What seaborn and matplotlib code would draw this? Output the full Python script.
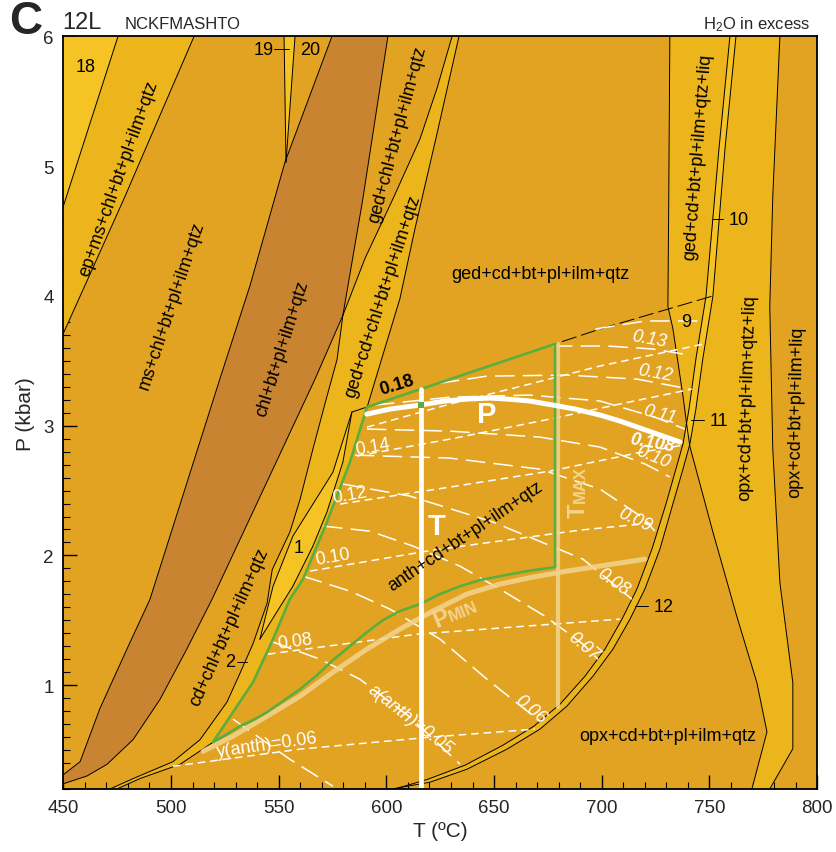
import numpy as np
import matplotlib
matplotlib.use("Agg")
import matplotlib.pyplot as plt
import seaborn as sns

sns.set_theme(style="ticks")
plt.rcParams["font.family"] = ["Liberation Sans", "DejaVu Sans"]
plt.rcParams["mathtext.fontset"] = "custom"
plt.rcParams["mathtext.rm"] = "Liberation Sans"
plt.rcParams["mathtext.it"] = "Liberation Sans:italic"
plt.rcParams["mathtext.bf"] = "Liberation Sans:bold"
plt.rcParams["lines.scale_dashes"] = False

ORANGE = "#E2A322"
YELLOW = "#EDB51C"
BRIGHT = "#F5C424"
BROWN = "#C98431"
GREEN = "#5BAE3E"
PALE = "#F3D490"

# ---------------- field boundaries (T in degC, P in kbar) ----------------
f18_T = [450.0, 475.4, 450.0]
f18_P = [6.0, 6.0, 4.69]
epms_T = [510.7, 478.2, 450.0]
epms_P = [6.0, 4.75, 3.71]
chl_left_T = [574.7, 552.9, 536.7, 522.7, 490.2, 479.6, 467.0, 457.8, 450.0]
chl_left_P = [6.0, 5.03, 4.08, 3.36, 1.66, 1.28, 0.82, 0.41, 0.31]
chl_right_T = [600.7, 589.1, 579.8, 566.9, 519.0, 507.4, 494.9, 482.4, 470.3, 461.0, 450.0]
chl_right_P = [6.0, 4.75, 3.85, 3.36, 1.66, 1.28, 0.89, 0.58, 0.39, 0.30, 0.24]
f19_T = [552.5, 553.4]
f19_P = [6.0, 5.03]
f20_T = [557.6, 553.4]
f20_P = [6.0, 5.03]

# ged+cd+chl field
gcc_left_T = [630.5, 623.5, 615.6, 603.1, 590.1, 579.8]
gcc_left_P = [6.0, 5.60, 5.21, 4.75, 4.29, 3.85]
gcc_right_T = [633.7, 623.5, 613.3, 606.3, 591.0]
gcc_right_P = [6.0, 5.25, 4.52, 3.98, 3.14]
cd_chl_T = [579.8, 577.1, 571.5, 565.9, 559.9, 555.2, 547.0, 544.6, 538.1, 532.0, 526.0, 513.5, 500.9, 482.4, 471.7]
cd_chl_P = [3.85, 3.51, 3.17, 2.82, 2.43, 2.18, 1.89, 1.63, 1.32, 1.09, 0.87, 0.58, 0.41, 0.28, 0.2]
tail_T = [519.5, 504.2, 485.6, 474.9]
tail_P = [0.56, 0.39, 0.28, 0.2]
lens_left_T = [584.0, 575.2, 556.6, 547.4, 541.3]
lens_left_P = [3.105, 2.642, 2.149, 1.763, 1.355]
lens_right_T = [584.0, 579.8, 572.4, 565.9, 556.6, 541.3]
lens_right_P = [3.105, 2.719, 2.334, 2.072, 1.763, 1.355]

# ged-out (dashed)
ged_T = [584.0, 678.3, 699.2, 751.6]
ged_P = [3.105, 3.63, 3.745, 4.0]

# liquid-bearing fields on the right
liq_left_T = [731.6, 731.1, 730.7, 733.0, 737.7, 739.5, 740.9, 751.6, 762.7, 772.0, 776.7, 769.7]
liq_left_P = [6.0, 4.75, 3.92, 3.75, 3.23, 3.0, 2.84, 2.18, 1.53, 1.02, 0.64, 0.2]
qtz_out_T = [782.7, 779.4, 778.0, 779.4, 782.7, 788.7, 788.7, 778.0]
qtz_out_P = [6.0, 4.77, 3.92, 2.82, 1.79, 1.02, 0.51, 0.2]

# opx-in band
opx_out_T = [762.3, 757.2, 751.6, 746.9, 743.7, 740.9, 737.7, 733.0, 727.0, 720.0, 713.1, 705.2, 695.9, 683.8, 671.3, 656.0, 637.4, 620.2, 602.6]
opx_out_P = [6.0, 5.133, 3.999, 3.514, 3.128, 2.858, 2.665, 2.396, 2.049, 1.740, 1.509, 1.278, 1.069, 0.838, 0.661, 0.507, 0.352, 0.252, 0.2]
opx_in_T = [759.5, 754.4, 748.4, 743.7, 740.5, 737.7, 734.4, 729.8, 723.3, 716.3, 709.4, 701.5, 692.2, 680.6, 668.5, 654.1, 636.5, 619.3, 604.0]
opx_in_P = [6.0, 5.133, 3.999, 3.514, 3.128, 2.858, 2.665, 2.396, 2.049, 1.740, 1.509, 1.278, 1.069, 0.853, 0.684, 0.537, 0.383, 0.275, 0.2]

# green outline of the anth field (top edge, Tmax side, lower curve, left side)
green_T = [591.0, 678.3, 678.3, 665.3, 652.7, 643.5, 634.2, 624.9, 615.6, 606.3, 598.4, 591.0, 583.1,
           575.2, 567.8, 559.9, 552.0, 544.6, 539.0, 532.0, 526.0, 519.5,
           528.8, 538.1, 547.4, 555.2, 561.3, 572.4, 583.1, 591.0]
green_P = [3.143, 3.63, 1.910, 1.879, 1.840, 1.810, 1.763, 1.702, 1.625, 1.571, 1.501, 1.409, 1.301,
           1.193, 1.077, 0.969, 0.877, 0.792, 0.738, 0.684, 0.622, 0.561,
           0.792, 1.023, 1.355, 1.663, 1.817, 2.257, 2.719, 3.143]
G_CORNER = 21

# P-T estimates
p_line_T = [590.9, 601.7, 615.6, 627.2, 637.4, 648.1, 656.0, 666.6, 677.3, 687.6, 699.2, 708.4, 717.7, 727.0, 736.3]
p_line_P = [3.089, 3.128, 3.159, 3.190, 3.205, 3.213, 3.205, 3.190, 3.159, 3.128, 3.082, 3.036, 2.982, 2.928, 2.874]
t_line_T = [616.0, 616.0]
t_line_P = [3.28, 0.2]
tmax_T = [679.7, 679.7]
tmax_P = [3.63, 0.83]
pmin_T = [514.9, 528.8, 544.6, 559.9, 575.2, 591.0, 606.3, 621.6, 637.4, 652.7, 668.0, 683.8, 699.2, 720.0]
pmin_P = [0.491, 0.607, 0.761, 0.915, 1.100, 1.278, 1.432, 1.571, 1.702, 1.779, 1.833, 1.879, 1.918, 1.971]

# y(anth) isopleths (short dashes)
y_anth = {
    0.06: ([500.9, 559.9, 620.2, 668.9], [0.375, 0.507, 0.599, 0.661]),
    0.08: ([545.0, 614.2, 689.9, 708.4], [1.239, 1.393, 1.486, 1.509]),
    0.10: ([564.5, 621.6, 689.9, 722.3], [1.879, 2.041, 2.195, 2.249]),
    0.12: ([578.5, 629.6, 676.0, 716.3, 737.7], [2.396, 2.527, 2.650, 2.789, 2.850]),
    0.14: ([586.3, 629.6, 676.0, 708.4, 741.8], [2.766, 2.897, 3.051, 3.167, 3.282]),
    0.16: ([591.0, 629.6, 666.6, 699.2, 747.1], [2.989, 3.167, 3.321, 3.460, 3.629]),
}
# a(anth) isopleths (long dashes)
a_anth = {
    0.14: ([697.0, 720.2, 748.0], [3.745, 3.807, 3.807]),
    0.13: ([677.3, 702.4, 723.7, 740.9], [3.614, 3.614, 3.591, 3.544]),
    0.12: ([624.9, 646.7, 683.8, 716.3, 740.9], [3.328, 3.382, 3.390, 3.359, 3.282]),
    0.11: ([594.7, 629.6, 666.6, 699.2, 724.6, 738.6], [3.159, 3.220, 3.236, 3.190, 3.066, 2.974]),
    0.10: ([591.0, 629.6, 671.3, 699.2, 720.2, 731.6], [2.974, 2.958, 2.912, 2.835, 2.704, 2.604]),
    0.09: ([585.4, 629.6, 671.3, 699.2, 720.0, 724.6], [2.773, 2.750, 2.665, 2.511, 2.280, 2.187]),
    0.08: ([579.8, 611.0, 649.5, 691.3, 714.0], [2.550, 2.457, 2.257, 1.971, 1.663]),
    0.07: ([570.6, 592.4, 612.4, 634.2, 652.7, 673.6, 691.3, 698.2], [2.226, 2.187, 2.072, 1.917, 1.740, 1.532, 1.316, 1.200]),
    0.06: ([561.3, 583.1, 601.7, 624.9, 646.7, 671.3], [1.840, 1.725, 1.586, 1.355, 1.046, 0.722]),
    0.05: ([547.4, 569.2, 587.7, 611.0, 634.2], [1.332, 1.200, 1.046, 0.753, 0.391]),
    0.04: ([528.8, 555.2, 575.2], [0.738, 0.429, 0.221]),
}

x_ticks = [450, 500, 550, 600, 650, 700, 750, 800]
y_ticks = [1, 2, 3, 4, 5, 6]

fig = plt.figure(figsize=(8.37, 8.53), dpi=100)
ax = fig.add_axes([0.0756, 0.0739, 0.9007, 0.8822])
ax.set_facecolor(ORANGE)


def trace(T, P, color="black", lw=0.7, ls="-", z=3, **kw):
    sns.lineplot(x=np.asarray(T, float), y=np.asarray(P, float), sort=False, estimator=None,
                 ax=ax, color=color, lw=lw, linestyle=ls, zorder=z, **kw)


def patch(T, P, color, z=1):
    ax.fill(T, P, color=color, lw=0, zorder=z)


def limit_label(T, P, big, small, rot, big_width_pt):
    """Large letter followed by a small-caps word on the same rotated baseline."""
    kw = dict(rotation=rot, rotation_mode="anchor", ha="left", va="baseline",
              fontweight="bold", color=PALE, zorder=9)
    ax.text(T, P, big, fontsize=17, **kw)
    a = np.deg2rad(rot)
    ax.annotate(small, xy=(T, P), xytext=(big_width_pt * np.cos(a), big_width_pt * np.sin(a)),
                textcoords="offset points", fontsize=12, **kw)


# ---- coloured fields ----
patch(f18_T, f18_P, BRIGHT)
patch([475.4, 450.0] + epms_T[::-1], [6.0, 4.69] + epms_P[::-1], YELLOW)
patch(chl_left_T + chl_right_T[::-1], chl_left_P + chl_right_P[::-1], BROWN)
patch([552.5, 557.6, 553.4], [6.0, 6.0, 5.03], BRIGHT)
band_T = gcc_left_T + cd_chl_T[1:] + tail_T[::-1] + green_T[G_CORNER:] + gcc_right_T[::-1]
band_P = gcc_left_P + cd_chl_P[1:] + tail_P[::-1] + green_P[G_CORNER:] + gcc_right_P[::-1]
patch(band_T, band_P, YELLOW)
patch(lens_left_T + lens_right_T[::-1], lens_left_P + lens_right_P[::-1], BRIGHT, z=1.2)
patch(liq_left_T + qtz_out_T[::-1], liq_left_P + qtz_out_P[::-1], YELLOW)
patch(opx_out_T + opx_in_T[::-1], opx_out_P + opx_in_P[::-1], YELLOW, z=1.3)
pg = np.linspace(2.93, 6.0, 200)
ax.fill_betweenx(pg, np.interp(pg, opx_in_P[::-1], opx_in_T[::-1]),
                 np.interp(pg, opx_out_P[::-1], opx_out_T[::-1]), color=BRIGHT, lw=0, zorder=1.4)

# ---- boundary lines ----
for T, P in [([475.4, 450.0], [6.0, 4.69]), (epms_T, epms_P), (chl_left_T, chl_left_P),
             (chl_right_T, chl_right_P), (f19_T, f19_P), (f20_T, f20_P), (gcc_left_T, gcc_left_P),
             (gcc_right_T, gcc_right_P), (cd_chl_T, cd_chl_P), (tail_T, tail_P),
             (lens_left_T, lens_left_P), (lens_right_T, lens_right_P), (liq_left_T, liq_left_P),
             (qtz_out_T, qtz_out_P), (opx_out_T, opx_out_P), (opx_in_T, opx_in_P),
             (green_T[G_CORNER:], green_P[G_CORNER:])]:
    trace(T, P)
trace(ged_T, ged_P, ls=(0, (11, 3.5)))

# ---- isopleths ----
for v, (T, P) in y_anth.items():
    trace(T, P, color="white", lw=1.1, ls=(0, (5.5, 3.5)), z=4)
for v, (T, P) in a_anth.items():
    trace(T, P, color="white", lw=1.1, ls=(0, (14, 6)), z=4)

# ---- P-T path markers ----
trace(pmin_T, pmin_P, color=PALE, lw=3.6, z=5, alpha=0.85)
trace(tmax_T, tmax_P, color=PALE, lw=3.0, z=5, alpha=0.85)
trace(green_T, green_P, color=GREEN, lw=1.9, z=6)
trace(t_line_T, t_line_P, color="white", lw=3.4, z=7)
trace(p_line_T, p_line_P, color="white", lw=3.6, z=7)
ax.scatter([616.0], [3.158], marker="s", s=22, color=GREEN, zorder=8, linewidths=0)

# ---- field labels ----
fs = 13
lab = dict(ha="center", va="center", rotation_mode="anchor", fontsize=fs, color="black", zorder=9)
ax.text(460.6, 5.77, "18", **lab)
ax.text(543.2, 5.90, "19", **lab)
trace([548.0, 554.9], [5.90, 5.90])
ax.text(564.6, 5.90, "20", **lab)
ax.text(475.9, 4.91, "ep+ms+chl+bt+pl+ilm+qtz", rotation=70.5, **lab)
ax.text(500.5, 3.93, "ms+chl+bt+pl+ilm+qtz", rotation=71.5, **lab)
ax.text(551.6, 3.60, "chl+bt+pl+ilm+qtz", rotation=72.5, **lab)
ax.text(605.4, 5.25, "ged+chl+bt+pl+ilm+qtz", rotation=75, **lab)
ax.text(598.4, 4.00, "ged+cd+chl+bt+pl+ilm+qtz", rotation=72, **lab)
ax.text(527.0, 1.45, "cd+chl+bt+pl+ilm+qtz", rotation=66, **lab)
ax.text(671.3, 4.17, "ged+cd+bt+pl+ilm+qtz", **lab)
ax.text(744.7, 5.08, "ged+cd+bt+pl+ilm+qtz+liq", rotation=85.5, **lab)
ax.text(767.8, 3.22, "opx+cd+bt+pl+ilm+qtz+liq", rotation=88.5, **lab)
ax.text(790.5, 3.11, "opx+cd+bt+pl+ilm+liq", rotation=89, **lab)
ax.text(730.6, 0.61, "opx+cd+bt+pl+ilm+qtz", **lab)
ax.text(636.5, 2.15, "anth+cd+bt+pl+ilm+qtz", rotation=34, **lab)
ax.text(559.2, 2.06, "1", **lab)
ax.text(527.5, 1.18, "2", **lab)
trace([530.5, 535.5], [1.18, 1.18])
ax.text(739.0, 3.80, "9", **lab)
trace([751.5, 756.5], [4.59, 4.59])
ax.text(763.5, 4.59, "10", **lab)
trace([741.5, 747.5], [3.04, 3.04])
ax.text(754.5, 3.04, "11", **lab)
trace([715.5, 721.5], [1.61, 1.61])
ax.text(728.5, 1.61, "12", **lab)
ax.text(604.9, 3.32, "0.18", rotation=17, fontweight="bold", **lab)

# ---- isopleth labels ----
wl = dict(ha="center", va="center", rotation_mode="anchor", fontsize=13, color="white", zorder=9)
ax.text(646.7, 3.09, "P", fontsize=21, fontweight="bold", color="white", ha="center", va="center", zorder=9)
ax.text(623.5, 2.23, "T", fontsize=21, fontweight="bold", color="white", ha="center", va="center", zorder=9)
limit_label(692.2, 2.30, "T", "MAX", 90, 10.4)
limit_label(623.4, 1.447, "P", "MIN", 22, 11.3)
ax.text(723.3, 2.87, "0.108", rotation=-10, fontweight="bold", style="italic", **wl)
for txt, T, P, r in [("0.13", 722.2, 3.67, -10), ("0.12", 724.6, 3.41, -10), ("0.11", 727.0, 3.09, -15),
                     ("0.10", 723.8, 2.76, -22), ("0.09", 715.4, 2.28, -25), ("0.08", 705.2, 1.80, -35),
                     ("0.07", 691.3, 1.30, -40), ("0.06", 666.7, 0.815, -40),
                     ("a(anth)=0.05", 611.0, 0.738, -38)]:
    ax.text(T, P, txt, rotation=r, style="italic", **wl)
for txt, T, P, r in [("0.14", 593.5, 2.84, 10), ("0.12", 583.1, 2.47, 10), ("0.10", 575.0, 1.99, 10),
                     ("0.08", 557.5, 1.34, 8), ("y(anth)=0.06", 544.6, 0.545, 8)]:
    ax.text(T, P, txt, rotation=r, **wl)

# ---- axes ----
ax.set_xlim(450, 800)
ax.set_ylim(0.2, 6.0)
ax.set_xticks(x_ticks)
ax.set_xticks(np.arange(450, 801, 10), minor=True)
ax.set_yticks(y_ticks)
ax.set_yticks(np.arange(0.2, 6.01, 0.1), minor=True)
ax.tick_params(which="major", direction="in", length=10, width=1.0, labelsize=13.5, color="black",
               top=False, right=False, pad=7)
ax.tick_params(which="minor", direction="in", length=5, width=0.8, color="black", top=False, right=False)
ax.set_xlabel("T (ºC)", fontsize=15, labelpad=4)
ax.set_ylabel("P (kbar)", fontsize=15, labelpad=6)
for s in ax.spines.values():
    s.set_color("black")
    s.set_linewidth(1.3)
    s.set_zorder(10)

fig.text(0.031, 0.974, "C", fontsize=33, fontweight="bold", ha="center", va="center")
fig.text(0.074, 0.9655, "12L", fontsize=17, ha="left", va="baseline")
fig.text(0.1493, 0.9655, "NCKFMASHTO", fontsize=12, ha="left", va="baseline")
fig.text(0.9677, 0.9655, r"$\mathregular{H_2O}$ in excess", fontsize=12, ha="right", va="baseline")

fig.savefig("out.png", dpi=100)
